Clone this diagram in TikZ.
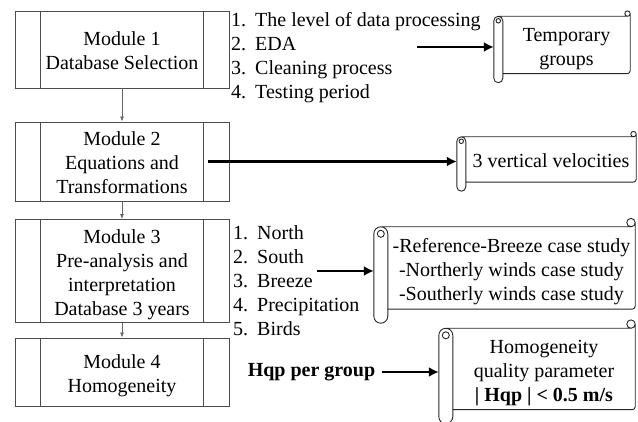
\documentclass[tikz,border=0pt]{standalone}
\usepackage{fontspec}
\setmainfont{Liberation Serif}
\usetikzlibrary{arrows,arrows.meta,calc}

% centred lines, first row a bit taller so the block sits lower
\newcommand{\ctext}[1]{\begin{tabular}{@{}c@{}}\rule{0pt}{23.8pt}#1\end{tabular}}

% scroll outline round a node: #1 node name, #2 roll width (pt)
\newcommand{\scrollframe}[2]{%
  \draw[scrollline] let \p1=(#1.north west), \p2=(#1.south east), \n1={#2} in
    (\x1-0.5*\n1*1pt,\y1) -- (\x2-0.3*\n1*1pt,\y1)
    (\x2-0.3*\n1*1pt,\y1+0.3*\n1*1pt) circle[radius=0.3*\n1*1pt]
    (\x2,\y1+0.3*\n1*1pt) -- (\x2,\y2+3pt) arc[start angle=0,end angle=-90,radius=3pt] -- (\x1,\y2)
    (\x1,\y1-0.5*\n1*1pt) -- (\x1,\y2-0.5*\n1*1pt) arc[start angle=0,end angle=-180,radius=0.5*\n1*1pt]
      -- (\x1-\n1*1pt,\y1-0.5*\n1*1pt) arc[start angle=180,end angle=0,radius=0.5*\n1*1pt]
    (\x1-0.5*\n1*1pt,\y1-0.5*\n1*1pt) circle[radius=0.25*\n1*1pt];
  \coordinate (#1-roll) at ([xshift=-#2pt]#1.west);
}

\begin{document}
\begin{tikzpicture}[x=1pt,y=-1pt]

  %Styles for picture
  \tikzset
  {
  every node/.style={font=\fontsize{20}{24}\selectfont},
  module/.style={rectangle, draw=black!70, line width=0.9pt, inner sep=0pt, minimum width=214pt},
  modline/.style={draw=black!70, line width=0.9pt},
  scrollbox/.style={inner sep=1pt},
  scrollline/.style={draw=black!85, line width=0.9pt},
  itemlist/.style={anchor=north west, inner sep=0pt},
  flow/.style={draw=black!60, line width=0.8pt, -{Latex[length=5pt,width=4pt]}},
  bigarrow/.style={line width=2.5pt, -{Latex[length=10pt,width=10pt]}},
  }
  \useasboundingbox (0,0) rectangle (638,422);

  % Modules
  \node[module, minimum height=77pt] (m1) at (122,49.5) {\ctext{Module 1\\Database Selection}};
  \node[module, minimum height=73pt] (m2) at (122,161.5) {\ctext{Module 2\\Equations and\\Transformations}};
  \node[module, minimum height=94pt] (m3) at (122,271) {\ctext{Module 3\\Pre-analysis and\\interpretation\\Database 3 years}};
  \node[module, minimum height=68pt] (m4) at (122,372) {\ctext{Module 4\\Homogeneity}};
  \foreach \m in {m1,m2,m3,m4}
  {
    \draw[modline] ([xshift=26pt]\m.north west) -- ([xshift=26pt]\m.south west);
    \draw[modline] ([xshift=-26pt]\m.north east) -- ([xshift=-26pt]\m.south east);
  }

  % Lists
  \node[itemlist] (l1) at (231,10) {\begin{tabular}{@{}l@{\hspace{9pt}}l@{}}
    1. & The level of data processing\\
    2. & EDA\\
    3. & Cleaning process\\
    4. & Testing period
  \end{tabular}};
  \node[itemlist] (l2) at (233,223) {\begin{tabular}{@{}l@{\hspace{9pt}}l@{}}
    1. & North\\
    2. & South\\
    3. & Breeze\\
    4. & Precipitation\\
    5. & Birds
  \end{tabular}};
  \node[inner xsep=7pt] (hqp) at (311.5,372) {\textbf{Hqp per group}};

  % Scrolls
  \node[scrollbox, minimum width=127pt, minimum height=50pt] (s1) at (566.5,45) {\ctext{Temporary\\groups}};
  \node[scrollbox, minimum width=170pt, minimum height=45pt] (s2) at (551,159.5) {\ctext{3 vertical velocities}};
  \node[scrollbox, minimum width=247pt, minimum height=82pt] (s3) at (511.5,268) {\ctext{-Reference-Breeze case study\\-Northerly winds case study\\-Southerly winds case study}};
  \node[scrollbox, minimum width=182pt, minimum height=78pt] (s4) at (544,369) {\ctext{Homogeneity\\quality parameter\\\textbf{| Hqp | < 0.5 m/s}}};
  \scrollframe{s1}{9}
  \scrollframe{s2}{9}
  \scrollframe{s3}{14}
  \scrollframe{s4}{14}

  % Edges
  \draw[flow] (m1) -- (m2);
  \draw[flow] (m2) -- (m3);
  \draw[flow] (m3) -- (m4);
  \coordinate (a1) at (417,47);
  \coordinate (a3) at (317,271);
  \draw[bigarrow] (a1) -- (a1 -| s1-roll);
  \draw[bigarrow] ([xshift=-21pt]m2.east) -- (m2.east -| s2-roll);
  \draw[bigarrow] (a3) -- (a3 -| s3-roll);
  \draw[bigarrow] (hqp.east) -- (hqp.east -| s4-roll);
\end{tikzpicture}
\end{document}
